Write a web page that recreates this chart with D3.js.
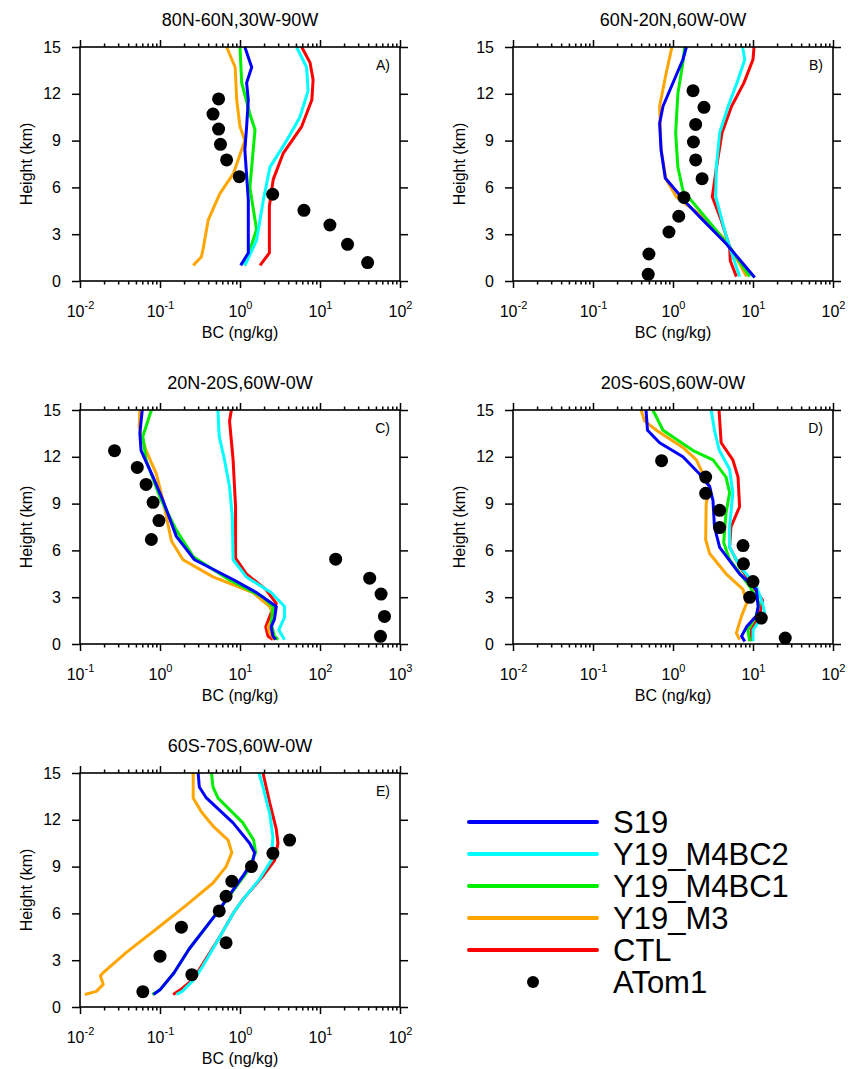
<!DOCTYPE html>
<html>
<head>
<meta charset="utf-8">
<script src="https://d3js.org/d3.v7.min.js"></script>
<style>
  body { margin: 0; background: #fff; }
  text { font-family: "Liberation Sans", Arial, sans-serif; fill: #000; }
</style>
</head>
<body>
<svg id="chart"></svg>
<script>
  var width = 848;
  var height = 1069;

  // series names + colors (legend order)
  var seriesNames = ["S19", "Y19_M4BC2", "Y19_M4BC1", "Y19_M3", "CTL"];
  var seriesColors = ["#0000ff", "#00ffff", "#00ee00", "#ffa500", "#ff0000"];

  var panelTitles = ["80N-60N,30W-90W", "60N-20N,60W-0W", "20N-20S,60W-0W", "20S-60S,60W-0W", "60S-70S,60W-0W"];
  var panelTags = ["A)", "B)", "C)", "D)", "E)"];
  var panelXDomains = [[0.01, 100], [0.01, 100], [0.1, 1000], [0.01, 100], [0.01, 100]];
  var heightTicks = [0, 3, 6, 9, 12, 15];

  // [BC ng/kg, height km]
  var a_S19 = [[1.02,1.0],[1.27,1.8],[1.27,5.2],[1.15,8.4],[1.21,9.9],[1.27,11.6],[1.21,12.7],[1.4,13.7],[1.15,15]];
  var a_M4BC2 = [[1.15,1.0],[1.61,2.6],[1.96,5.2],[2.37,7.3],[3.83,9.0],[5.6,10.5],[7.1,12.2],[6.8,13.7],[5.1,15]];
  var a_M4BC1 = [[1.15,1.0],[1.61,3.3],[1.33,6.0],[1.54,9.7],[1.33,10.7],[1.05,12.7],[1.0,15]];
  var a_M3 = [[0.26,1.0],[0.33,1.56],[0.35,2.2],[0.40,3.9],[0.56,5.6],[0.83,6.9],[1.15,9.0],[1.0,9.9],[0.91,11.6],[0.87,13.7],[0.68,15]];
  var a_CTL = [[1.78,1.0],[2.33,1.8],[2.33,4.8],[2.6,6.5],[3.48,8.2],[5.9,9.9],[7.9,11.6],[8.2,12.9],[7.5,14],[5.9,15]];
  var a_ATom = [[0.54,11.67],[0.46,10.7],[0.54,9.74],[0.57,8.76],[0.68,7.76],[0.98,6.69],[2.56,5.56],[6.3,4.53],[13.3,3.59],[22.1,2.35],[39.4,1.18]];

  var b_S19 = [[10.5,0.23],[4.6,2.4],[2.37,3.9],[1.47,5.0],[0.80,6.6],[0.71,8.4],[0.68,10.1],[0.75,11.2],[1.33,14.2],[1.47,15]];
  var b_M4BC2 = [[6.8,0.28],[5.1,2.2],[4.5,3.1],[3.9,4.3],[3.42,5.4],[3.48,7.3],[3.83,9.5],[4.9,11.2],[6.5,12.9],[7.9,14.2],[7.4,15]];
  var b_M4BC1 = [[9.1,0.28],[5.1,2.2],[3.16,3.5],[1.33,5.8],[1.15,7.3],[1.08,9.5],[1.15,12.0],[1.33,14],[1.40,15]];
  var b_M3 = [[8.3,0.28],[6.8,1.1],[4.6,2.6],[2.37,4.1],[1.1,5.4],[0.82,6.5],[0.71,8.4],[0.68,11.2],[0.82,13.3],[0.97,15]];
  var b_CTL = [[6.2,0.28],[5.2,1.3],[5.1,2.2],[4.0,3.9],[3.1,5.4],[3.5,7.3],[4.1,9.5],[5.4,11.2],[7.7,12.7],[10,14.2],[10.3,15]];
  var b_ATom = [[1.78,12.2],[2.44,11.13],[1.92,10.04],[1.80,8.91],[1.92,7.76],[2.31,6.56],[1.37,5.36],[1.18,4.15],[0.89,3.14],[0.50,1.73],[0.49,0.43]];

  var c_S19 = [[28,0.28],[25.8,0.5],[24.5,1.1],[27,1.6],[28.4,2.4],[16,3.3],[8.4,4.1],[2.7,5.4],[1.6,6.9],[1.09,9.2],[0.82,10.7],[0.58,12.4],[0.56,13.5],[0.60,15]];
  var c_M4BC2 = [[36,0.28],[30.6,0.9],[36,1.7],[36,2.4],[24.5,3.3],[12,4.3],[8.2,5.4],[8.0,8.2],[7.4,10.1],[6.4,11.8],[5.5,13.3],[5.3,15]];
  var c_M4BC1 = [[30,0.28],[27,0.5],[24.5,1.3],[25.8,2.4],[19.4,3.0],[7.4,4.1],[2.6,5.6],[1.6,7.3],[1.0,9.4],[0.67,11.8],[0.61,13.3],[0.78,15]];
  var c_M3 = [[27,0.28],[23.5,0.7],[22.4,1.1],[26.4,1.8],[23.5,2.4],[14.5,3.3],[4.6,4.3],[1.94,5.4],[1.39,6.6],[1.09,9.2],[0.9,10.9],[0.67,12.4],[0.55,13.9],[0.56,15]];
  var c_CTL = [[25.8,0.28],[22.4,0.5],[21,1.1],[24.5,2.0],[28.4,2.6],[21,3.5],[12,4.5],[8.8,5.5],[8.8,8.8],[8.2,11.8],[7.4,14.3],[7.8,15]];
  var c_ATom = [[0.27,12.39],[0.52,11.32],[0.67,10.23],[0.82,9.08],[0.97,7.91],[0.78,6.7],[157,5.44],[418,4.22],[580,3.2],[640,1.77],[570,0.49]];

  var d_S19 = [[7.9,0.17],[7.2,0.5],[8.3,1.1],[11,1.8],[11.6,2.4],[11,3.5],[6.8,4.5],[3.83,6.2],[3.3,7.5],[3.16,9.2],[2.87,10.1],[2.15,10.9],[1.33,12.0],[0.68,12.9],[0.48,13.7],[0.46,15]];
  var d_M4BC2 = [[10,0.17],[10,0.9],[13.9,2.0],[13.2,2.6],[11,3.7],[6.8,5.0],[5.1,6.2],[5.1,7.5],[5.6,9.7],[5.1,11.2],[3.8,12.4],[3.3,13.7],[3.0,15]];
  var d_M4BC1 = [[9.1,0.17],[8.6,0.9],[11,1.8],[12,2.6],[9.1,3.7],[5.1,5.4],[4.3,6.5],[4.6,8.4],[5.1,9.7],[4.6,10.7],[3.16,11.8],[1.78,12.4],[0.75,13.7],[0.56,15]];
  var d_M3 = [[6.8,0.28],[6.2,0.7],[7.2,1.8],[8.3,2.6],[7.5,3.5],[4.6,4.5],[2.87,5.8],[2.56,6.7],[2.6,9.0],[2.87,10.1],[2.37,10.9],[1.96,11.8],[1.33,12.6],[0.62,13.7],[0.44,14.3],[0.40,15]];
  var d_CTL = [[9.5,0.17],[9.5,0.9],[12,1.8],[13.2,2.8],[10,3.7],[6.8,5.0],[5.1,6.2],[5.3,7.5],[6.8,8.8],[6.5,10.7],[5.6,11.8],[4.0,12.9],[3.76,15]];
  var d_ATom = [[0.72,11.75],[2.56,10.7],[2.56,9.66],[3.83,8.57],[3.83,7.46],[7.5,6.31],[7.6,5.14],[10,4.0],[9.1,2.99],[12.7,1.66],[25.3,0.38]];

  var e_S19 = [[0.083,0.8],[0.1,1.1],[0.15,2.2],[0.23,3.7],[0.51,6.0],[1.09,8.4],[1.45,9.4],[1.52,9.9],[1.32,10.5],[0.82,11.8],[0.38,13.4],[0.31,14.1],[0.30,15]];
  var e_M4BC2 = [[0.16,0.8],[0.19,1.0],[0.27,1.8],[0.34,2.6],[0.56,4.5],[0.82,6.0],[1.09,6.9],[1.76,8.2],[2.46,9.4],[2.58,10.9],[2.35,12.4],[1.94,14.1],[1.73,15]];
  var e_M4BC1 = [[0.08,0.8],[0.1,1.1],[0.15,2.2],[0.23,3.7],[0.51,6.0],[1.2,8.6],[1.57,9.9],[1.48,10.7],[1.09,11.8],[0.53,13.4],[0.46,14.1],[0.44,15]];
  var e_M3 = [[0.0115,0.8],[0.016,1.0],[0.0195,1.45],[0.018,2.0],[0.0195,2.2],[0.038,3.5],[0.09,5.0],[0.21,6.5],[0.46,7.95],[0.67,9.0],[0.79,9.9],[0.71,10.7],[0.46,11.6],[0.33,12.5],[0.26,13.4],[0.26,15]];
  var e_CTL = [[0.146,0.8],[0.18,1.1],[0.235,1.6],[0.31,2.4],[0.53,4.3],[0.82,6.0],[1.09,6.9],[1.94,8.4],[2.71,9.4],[2.98,10.5],[2.84,11.4],[2.35,13.1],[1.94,15]];
  var e_ATom = [[4.17,10.7],[2.58,9.85],[1.39,9.0],[0.79,8.06],[0.67,7.1],[0.55,6.16],[0.185,5.12],[0.67,4.12],[0.1,3.26],[0.25,2.07],[0.061,0.98]];

  // per panel: model lines in legend order, then obs
  var panelLines = [
    [a_S19, a_M4BC2, a_M4BC1, a_M3, a_CTL],
    [b_S19, b_M4BC2, b_M4BC1, b_M3, b_CTL],
    [c_S19, c_M4BC2, c_M4BC1, c_M3, c_CTL],
    [d_S19, d_M4BC2, d_M4BC1, d_M3, d_CTL],
    [e_S19, e_M4BC2, e_M4BC1, e_M3, e_CTL]
  ];
  var panelObs = [a_ATom, b_ATom, c_ATom, d_ATom, e_ATom];

  // layout
  var plotW = 320, plotH = 234;
  var panelLeft = [80, 513, 80, 513, 80];
  var panelTop = [47, 47, 410, 410, 773];

  var svg = d3.select("#chart")
    .attr("width", width)
    .attr("height", height);

  svg.append("rect").attr("width", width).attr("height", height).attr("fill", "#fff");

  panelTitles.forEach(function(title, p) {
    var g = svg.append("g").attr("transform", "translate(" + panelLeft[p] + "," + panelTop[p] + ")");

    var x = d3.scaleLog().domain(panelXDomains[p]).range([0, plotW]);
    var y = d3.scaleLinear().domain([0, 15]).range([plotH, 0]);

    // decades + minor ticks
    var lo = Math.round(Math.log10(panelXDomains[p][0]));
    var hi = Math.round(Math.log10(panelXDomains[p][1]));
    var majors = d3.range(lo, hi + 1).map(function(e) { return Math.pow(10, e); });
    var minors = [];
    d3.range(lo, hi).forEach(function(e) {
      for (var k = 2; k <= 9; k++) minors.push(k * Math.pow(10, e));
    });

    // minor ticks bottom/top
    g.append("g").attr("transform", "translate(0," + plotH + ")")
      .call(d3.axisBottom(x).tickValues(minors).tickSize(3.5).tickFormat(""));
    g.append("g")
      .call(d3.axisTop(x).tickValues(minors).tickSize(3.5).tickFormat(""));
    g.append("g")
      .call(d3.axisTop(x).tickValues(majors).tickSize(7).tickFormat(""));

    var xb = g.append("g").attr("transform", "translate(0," + plotH + ")")
      .call(d3.axisBottom(x).tickValues(majors).tickSize(7).tickFormat(""));
    xb.selectAll(".tick text").each(function(d) {
      var t = d3.select(this).attr("y", 36).attr("dy", null)
        .attr("font-size", 16).attr("text-anchor", "middle");
      t.append("tspan").text("10");
      t.append("tspan").attr("dy", -8).attr("font-size", 11).text(Math.round(Math.log10(d)));
    });

    g.append("g")
      .call(d3.axisLeft(y).tickValues(heightTicks).tickSize(8).tickPadding(11))
      .selectAll("text").attr("font-size", 16);
    g.append("g").attr("transform", "translate(" + plotW + ",0)")
      .call(d3.axisRight(y).tickValues(heightTicks).tickSize(8).tickFormat(""));

    g.selectAll(".domain").remove();
    g.selectAll(".tick line").attr("stroke-width", 1.5);
    g.selectAll(".tick text").attr("font-family", "Liberation Sans, Arial, sans-serif").attr("fill", "#000");

    // lines, drawn so S19 ends up on top
    var line = d3.line()
      .x(function(d) { return x(d[0]); })
      .y(function(d) { return y(d[1]); });

    var order = [4, 3, 2, 1, 0];
    g.selectAll("path.model")
      .data(order)
      .enter()
      .append("path")
      .attr("class", "model")
      .attr("d", function(i) { return line(panelLines[p][i]); })
      .attr("fill", "none")
      .attr("stroke", function(i) { return seriesColors[i]; })
      .attr("stroke-width", 3)
      .attr("stroke-linejoin", "round");

    g.selectAll("circle.obs")
      .data(panelObs[p])
      .enter()
      .append("circle")
      .attr("class", "obs")
      .attr("cx", function(d) { return x(d[0]); })
      .attr("cy", function(d) { return y(d[1]); })
      .attr("r", 6.5)
      .attr("fill", "#000");

    // frame
    g.append("rect")
      .attr("width", plotW).attr("height", plotH)
      .attr("fill", "none").attr("stroke", "#000").attr("stroke-width", 1.6);

    g.append("text")
      .attr("x", plotW - 10).attr("y", 23)
      .attr("text-anchor", "end").attr("font-size", 14)
      .text(panelTags[p]);

    g.append("text")
      .attr("x", plotW / 2).attr("y", -21)
      .attr("text-anchor", "middle").attr("font-size", 18)
      .text(title);

    g.append("text")
      .attr("x", plotW / 2).attr("y", plotH + 57)
      .attr("text-anchor", "middle").attr("font-size", 16)
      .text("BC (ng/kg)");

    g.append("text")
      .attr("transform", "translate(-48," + (plotH / 2) + ") rotate(-90)")
      .attr("text-anchor", "middle").attr("font-size", 16)
      .text("Height (km)");
  });

  // legend
  var legend = svg.append("g").attr("transform", "translate(469,822)");
  var rowH = 32;

  legend.selectAll("line")
    .data(seriesNames)
    .enter()
    .append("line")
    .attr("x1", 0).attr("x2", 128)
    .attr("y1", function(d, i) { return i * rowH; })
    .attr("y2", function(d, i) { return i * rowH; })
    .attr("stroke", function(d, i) { return seriesColors[i]; })
    .attr("stroke-width", 4)
    .attr("stroke-linecap", "round");

  legend.append("circle")
    .attr("cx", 64).attr("cy", 5 * rowH).attr("r", 6)
    .attr("fill", "#000");

  legend.selectAll("text")
    .data(seriesNames.concat(["ATom1"]))
    .enter()
    .append("text")
    .attr("x", 144)
    .attr("y", function(d, i) { return i * rowH; })
    .attr("dy", "0.36em")
    .attr("font-size", 31)
    .text(function(d) { return d; });
</script>
</body>
</html>
